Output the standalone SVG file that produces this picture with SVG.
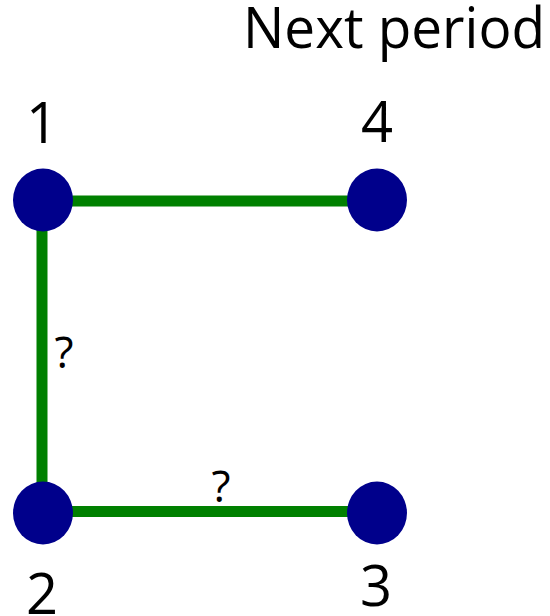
<svg xmlns="http://www.w3.org/2000/svg" width="550" height="616" viewBox="0 0 550 616">
<style>
.node{fill:#00008b}
.edge{stroke:#008000;stroke-width:11;fill:none}
.lbl{font-family:"Open Sans","Liberation Sans",sans-serif;font-size:56px;fill:#000;text-anchor:middle}
.q{font-family:"Open Sans","Liberation Sans",sans-serif;font-size:44px;fill:#000;text-anchor:middle}
</style>
<rect width="550" height="616" fill="#fff"/>
<text x="243" y="48" class="lbl" style="text-anchor:start" textLength="302" lengthAdjust="spacingAndGlyphs">Next period</text>
<g id="connectors">
<line class="edge" x1="43" y1="201" x2="377" y2="201"/>
<line class="edge" x1="42" y1="200" x2="42" y2="513"/>
<line class="edge" x1="43" y1="511.5" x2="377" y2="511.5"/>
<text x="64" y="368" class="q">?</text>
<text x="221" y="502" class="q">?</text>
</g>
<g id="node1"><ellipse class="node" cx="43" cy="200" rx="30" ry="31.5"/><text x="42" y="143" class="lbl">1</text></g>
<g id="node4"><ellipse class="node" cx="377" cy="200" rx="30" ry="31.5"/><text x="377" y="142" class="lbl">4</text></g>
<g id="node2"><ellipse class="node" cx="43" cy="513" rx="30" ry="31.5"/><text x="42" y="614" class="lbl">2</text></g>
<g id="node3"><ellipse class="node" cx="377" cy="513" rx="30" ry="31.5"/><text x="376" y="606" class="lbl">3</text></g>
</svg>
